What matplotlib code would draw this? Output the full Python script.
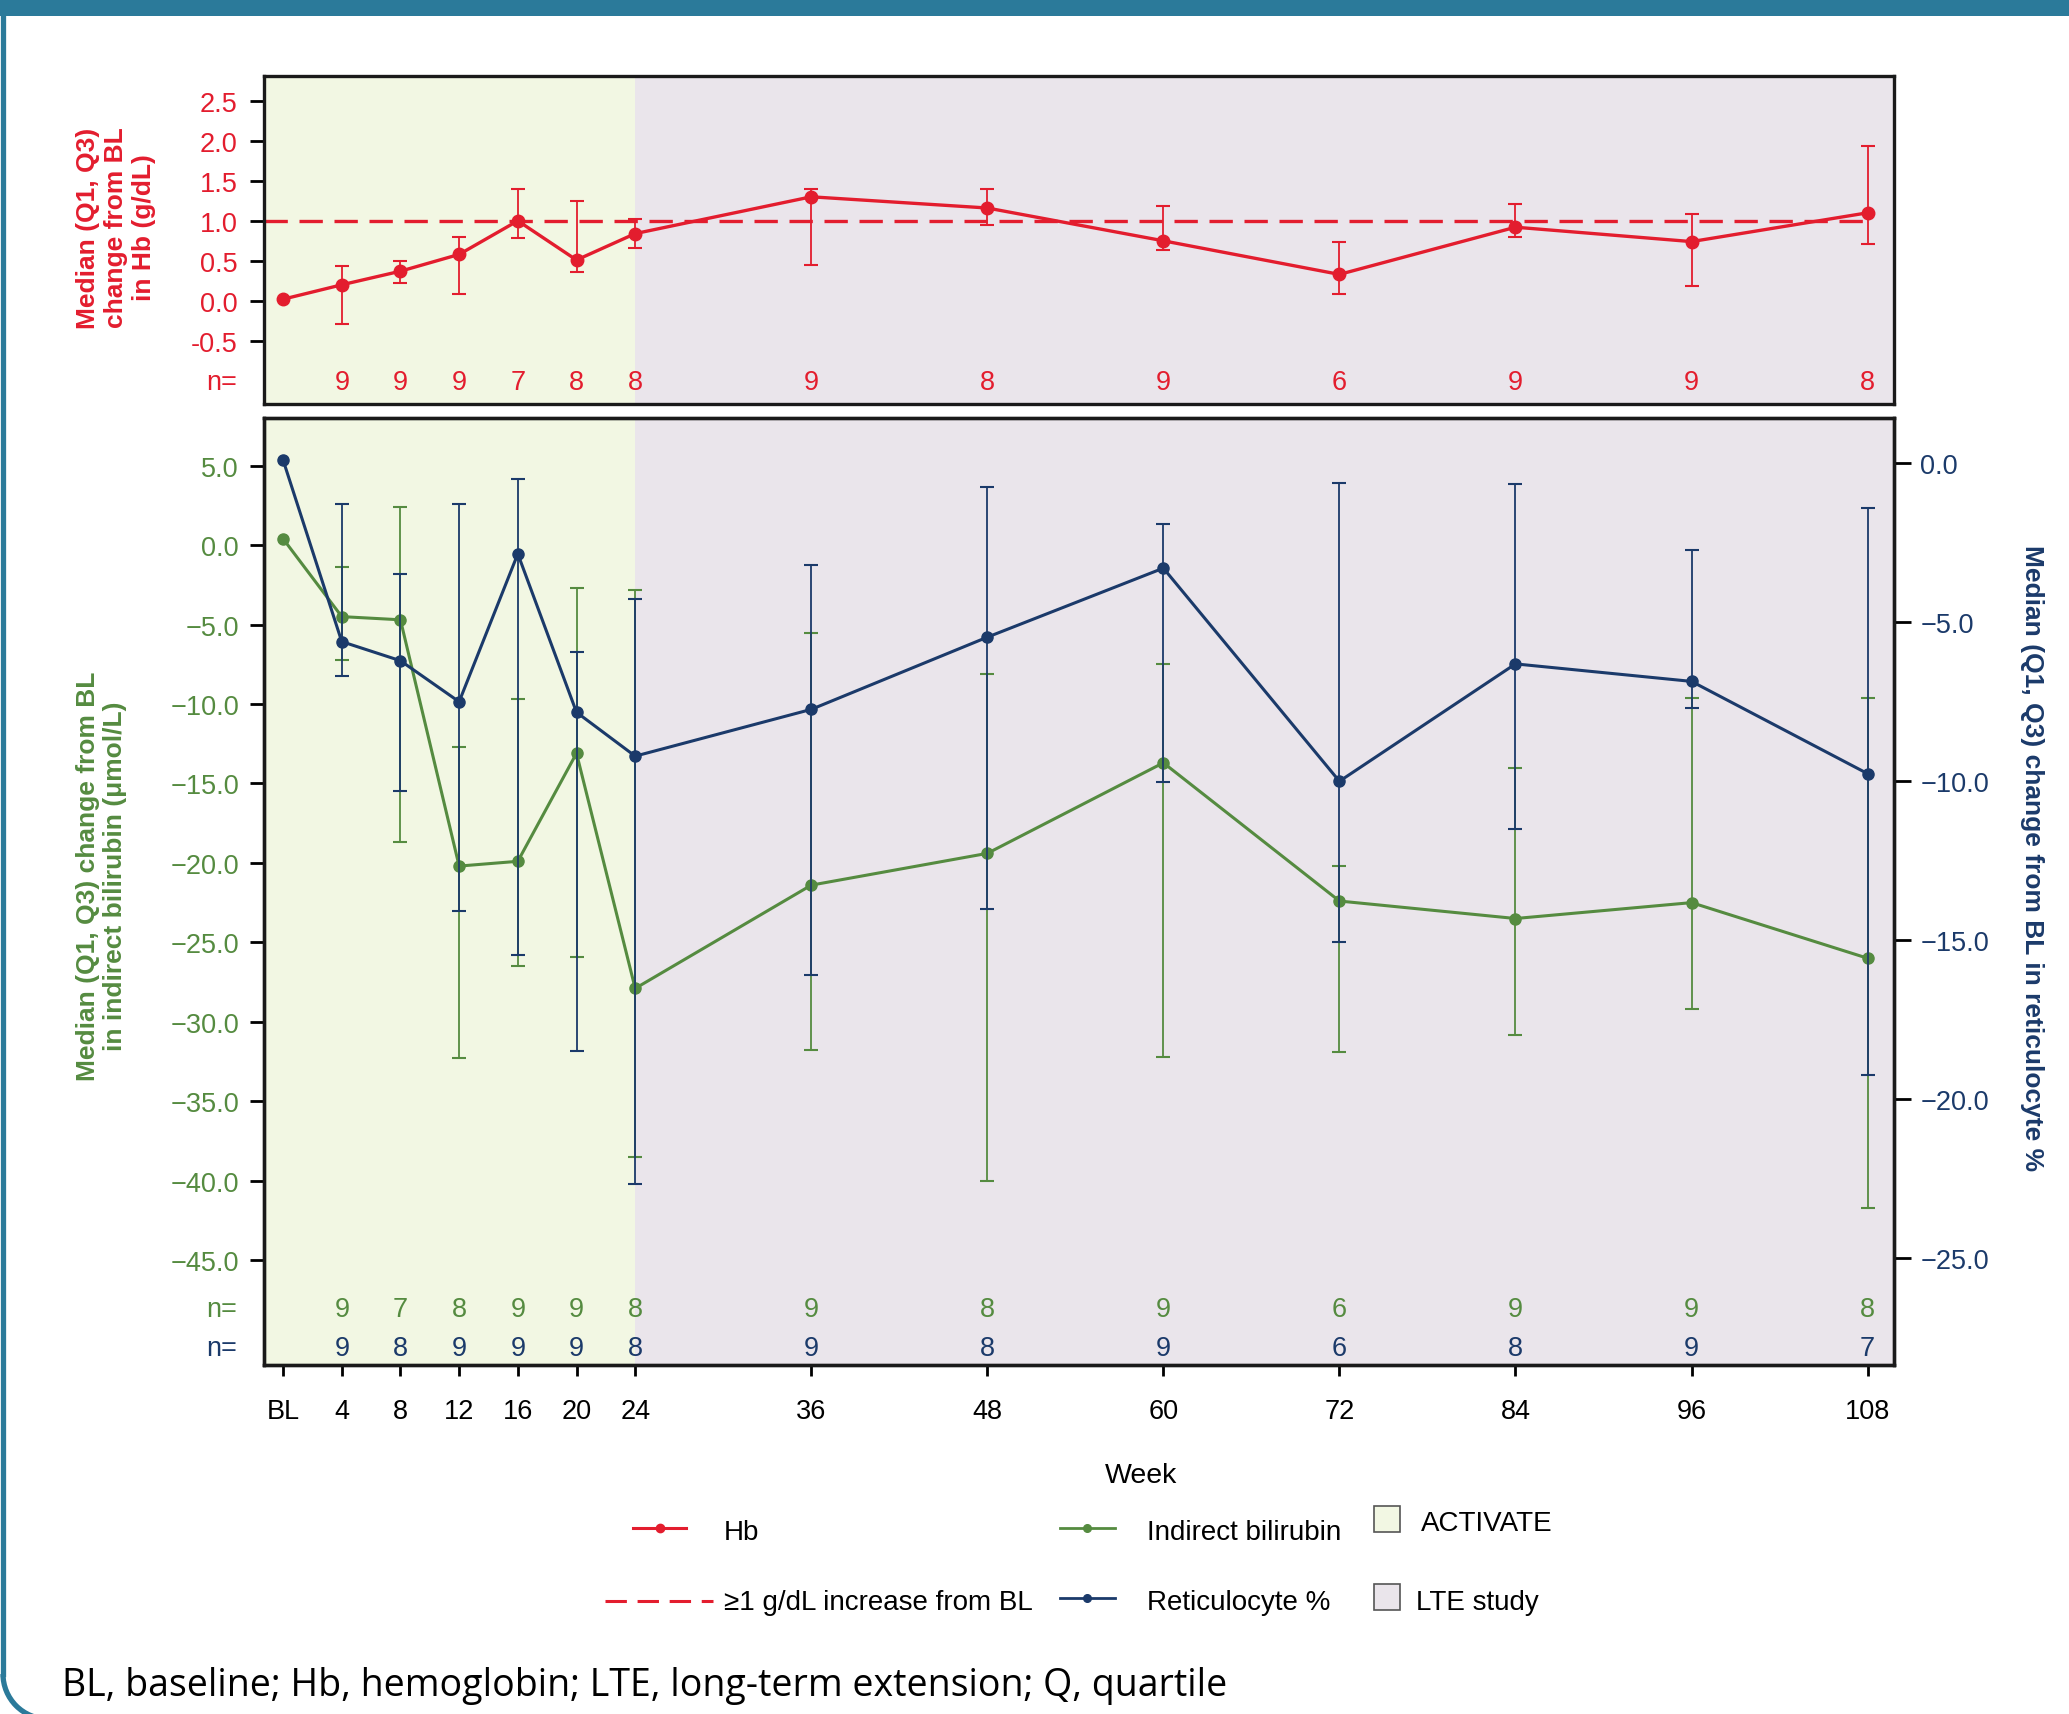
import matplotlib
matplotlib.use('Agg')
import matplotlib.pyplot as plt
import numpy as np
from matplotlib.lines import Line2D
from matplotlib.patches import Rectangle, Arc
from matplotlib.ticker import FuncFormatter

plt.rcParams['font.family'] = ['Liberation Sans', 'DejaVu Sans']

# week axis
weeks = [0, 4, 8, 12, 16, 20, 24, 36, 48, 60, 72, 84, 96, 108]
week_labels = ['BL', '4', '8', '12', '16', '20', '24', '36', '48', '60', '72', '84', '96', '108']
activate_end = 24

# Hb change from BL (g/dL)
hb_median = [0.02, 0.20, 0.37, 0.58, 1.00, 0.51, 0.84, 1.30, 1.16, 0.75, 0.33, 0.92, 0.74, 1.10]
hb_q1 = [np.nan, -0.29, 0.22, 0.09, 0.79, 0.36, 0.66, 0.45, 0.95, 0.64, 0.08, 0.80, 0.19, 0.71]
hb_q3 = [np.nan, 0.43, 0.50, 0.80, 1.40, 1.25, 1.02, 1.40, 1.40, 1.19, 0.73, 1.21, 1.08, 1.94]
hb_n = ['', '9', '9', '9', '7', '8', '8', '9', '8', '9', '6', '9', '9', '8']
hb_threshold = 1.0

# indirect bilirubin change from BL (umol/L)
bili_median = [0.4, -4.5, -4.7, -20.2, -19.9, -13.1, -27.9, -21.4, -19.4, -13.7, -22.4, -23.5, -22.5, -26.0]
bili_q1 = [np.nan, -7.2, -18.7, -32.3, -26.5, -25.9, -38.5, -31.8, -40.0, -32.2, -31.9, -30.8, -29.2, -41.7]
bili_q3 = [np.nan, -1.4, 2.4, -12.7, -9.7, -2.7, -2.8, -5.5, -8.1, -7.5, -20.2, -14.0, -9.6, -9.6]
bili_n = ['', '9', '7', '8', '9', '9', '8', '9', '8', '9', '6', '9', '9', '8']

# reticulocyte % change from BL
ret_median = [0.1, -5.61, -6.21, -7.50, -2.85, -7.83, -9.21, -7.74, -5.47, -3.30, -10.00, -6.31, -6.86, -9.76]
ret_q1 = [np.nan, -6.69, -10.31, -14.08, -15.46, -18.47, -22.65, -16.09, -14.03, -10.01, -15.05, -11.50, -7.69, -19.23]
ret_q3 = [np.nan, -1.29, -3.49, -1.29, -0.49, -5.95, -4.26, -3.21, -0.76, -1.92, -0.62, -0.66, -2.73, -1.40]
ret_n = ['', '9', '8', '9', '9', '9', '8', '9', '8', '9', '6', '8', '9', '7']

hb_ticks = [-0.5, 0.0, 0.5, 1.0, 1.5, 2.0, 2.5]
bili_ticks = [-45, -40, -35, -30, -25, -20, -15, -10, -5, 0, 5]
ret_ticks = [-25, -20, -15, -10, -5, 0]

red = '#E31D2E'
green = '#558B40'
navy = '#1B3A6A'
act_col = '#F2F7E3'
lte_col = '#EAE5EB'
teal = '#2B7A9A'

TS = 19.5   # tick / n= text size
LS = 20     # legend text size

W, H = 2069, 1715
fig = plt.figure(figsize=(W / 100, H / 100), dpi=100)
ax_top = fig.add_axes([264 / W, 1 - 405 / H, 1630 / W, 328 / H])
ax_bot = fig.add_axes([264 / W, 1 - 1366 / H, 1630 / W, 947 / H])
ax_ret = ax_bot.twinx()

xlim = (-1.3, 109.8)
for ax in (ax_top, ax_bot):
    ax.set_xlim(*xlim)
    ax.axvspan(xlim[0], activate_end, color=act_col, zorder=0, lw=0)
    ax.axvspan(activate_end, xlim[1], color=lte_col, zorder=0, lw=0)
    for s in ax.spines.values():
        s.set_linewidth(2.4)
        s.set_color('#1a1a1a')
for s in ax_ret.spines.values():
    s.set_linewidth(2.4)
    s.set_color('#1a1a1a')


def err(med, q1, q3):
    med = np.array(med[1:])
    return [med - np.array(q1[1:]), np.array(q3[1:]) - med]


def fmt_minus(v, p):
    return ('%.1f' % v).replace('-', '\u2212')


# ---- top panel: Hb
ax_top.set_ylim(-1.29, 2.81)
ax_top.plot([xlim[0], weeks[-1] + 0.4], [hb_threshold, hb_threshold], color=red, lw=2.4,
            ls=(0, (7, 3.5)), zorder=2)
ax_top.errorbar(weeks[1:], hb_median[1:], yerr=err(hb_median, hb_q1, hb_q3), fmt='none',
                ecolor=red, elinewidth=1.3, capsize=5, capthick=1.5, zorder=3)
ax_top.plot(weeks, hb_median, color=red, lw=2.4, marker='o', ms=9, zorder=4)
ax_top.set_xticks([])
ax_top.set_yticks(hb_ticks)
ax_top.yaxis.set_major_formatter(FuncFormatter(lambda v, p: '%.1f' % v))
ax_top.tick_params(axis='y', length=10, width=2, pad=9, labelsize=TS, labelcolor=red)
for w, n in zip(weeks, hb_n):
    ax_top.text(w, -1.01, n, color=red, fontsize=TS, ha='center', va='center')
ax_top.text(-0.0166, -1.01, 'n=', color=red, fontsize=TS, ha='right', va='center',
            transform=ax_top.get_yaxis_transform())
ax_top.text(-0.0908, 0.54, 'Median (Q1, Q3)\nchange from BL\nin Hb (g/dL)', color=red,
            fontsize=19, fontweight='bold', rotation=90, ha='center', va='center',
            multialignment='center', linespacing=1.2, transform=ax_top.transAxes)

# ---- bottom panel: bilirubin (left) and reticulocyte (right)
ax_bot.set_ylim(-51.6, 8.0)
ax_ret.set_ylim(-28.35, 1.42)

ax_bot.errorbar(weeks[1:], bili_median[1:], yerr=err(bili_median, bili_q1, bili_q3), fmt='none',
                ecolor=green, elinewidth=1.3, capsize=5, capthick=1.5, zorder=3)
ax_bot.plot(weeks, bili_median, color=green, lw=2.2, marker='o', ms=8, zorder=4)
ax_ret.errorbar(weeks[1:], ret_median[1:], yerr=err(ret_median, ret_q1, ret_q3), fmt='none',
                ecolor=navy, elinewidth=1.3, capsize=5, capthick=1.5, zorder=3)
ax_ret.plot(weeks, ret_median, color=navy, lw=2.2, marker='o', ms=8, zorder=4)

ax_bot.set_xticks(weeks)
ax_bot.set_xticklabels(week_labels)
ax_bot.tick_params(axis='x', length=8, width=2, pad=16, labelsize=TS, labelcolor='black')
ax_bot.set_yticks(bili_ticks)
ax_bot.yaxis.set_major_formatter(FuncFormatter(fmt_minus))
ax_bot.tick_params(axis='y', length=10, width=2, pad=8, labelsize=TS, labelcolor=green)
ax_ret.set_yticks(ret_ticks)
ax_ret.yaxis.set_major_formatter(FuncFormatter(fmt_minus))
ax_ret.tick_params(axis='y', length=12, width=2, pad=7, labelsize=TS, labelcolor=navy)

for w, n1, n2 in zip(weeks, bili_n, ret_n):
    ax_bot.text(w, -48.1, n1, color=green, fontsize=TS, ha='center', va='center')
    ax_bot.text(w, -50.5, n2, color=navy, fontsize=TS, ha='center', va='center')
ax_bot.text(-0.0166, -48.1, 'n=', color=green, fontsize=TS, ha='right', va='center',
            transform=ax_bot.get_yaxis_transform())
ax_bot.text(-0.0166, -50.5, 'n=', color=navy, fontsize=TS, ha='right', va='center',
            transform=ax_bot.get_yaxis_transform())

ax_bot.text(-0.0997, 0.517, 'Median (Q1, Q3) change from BL\nin indirect bilirubin (\u03bcmol/L)',
            color=green, fontsize=19, fontweight='bold', rotation=90, ha='center', va='center',
            multialignment='center', linespacing=1.2, transform=ax_bot.transAxes)
ax_bot.text(1.0847, 0.536, 'Median (Q1, Q3) change from BL in reticulocyte %', color=navy,
            fontsize=19, fontweight='bold', rotation=-90, ha='center', va='center',
            transform=ax_bot.transAxes)

fig.text(1141 / W, 1 - 1476 / H, 'Week', fontsize=20.5, ha='center', va='center')

# ---- legend (drawn by hand, figure pixel positions)
def fx(px):
    return px / W


def fy(py):
    return 1 - py / H


fig.add_artist(Line2D([fx(633), fx(686)], [fy(1529), fy(1529)], color=red, lw=2.2))
fig.add_artist(Line2D([fx(660)], [fy(1529)], color=red, marker='o', ms=6))
fig.text(fx(724), fy(1533), 'Hb', fontsize=LS, va='center')
fig.add_artist(Line2D([fx(605), fx(713)], [fy(1602), fy(1602)], color=red, lw=2.2, ls=(0, (7, 3.5))))
fig.text(fx(724), fy(1603), '\u22651 g/dL increase from BL', fontsize=LS, va='center')

fig.add_artist(Line2D([fx(1060), fx(1115)], [fy(1529), fy(1529)], color=green, lw=2))
fig.add_artist(Line2D([fx(1087)], [fy(1529)], color=green, marker='o', ms=5.5))
fig.text(fx(1147), fy(1533), 'Indirect bilirubin', fontsize=LS, va='center')
fig.add_artist(Line2D([fx(1060), fx(1115)], [fy(1599), fy(1599)], color=navy, lw=2))
fig.add_artist(Line2D([fx(1087)], [fy(1599)], color=navy, marker='o', ms=5.5))
fig.text(fx(1147), fy(1603), 'Reticulocyte %', fontsize=LS, va='center')

fig.add_artist(Rectangle((fx(1374), fy(1533)), 26 / W, 26 / H, transform=fig.transFigure,
                         facecolor=act_col, edgecolor='#555555', lw=1.2))
fig.text(fx(1421), fy(1524), 'ACTIVATE', fontsize=LS, va='center')
fig.add_artist(Rectangle((fx(1374), fy(1611)), 26 / W, 26 / H, transform=fig.transFigure,
                         facecolor=lte_col, edgecolor='#555555', lw=1.2))
fig.text(fx(1416), fy(1603), 'LTE study', fontsize=LS, va='center')

fig.text(fx(62), fy(1686), 'BL, baseline; Hb, hemoglobin; LTE, long-term extension; Q, quartile',
         fontsize=27, va='center', family=['Open Sans', 'DejaVu Sans'])

# ---- outer frame
fig.add_artist(Rectangle((0, 1 - 17 / H), 1, 17 / H, transform=fig.transFigure,
                         facecolor=teal, edgecolor='none'))
R = 45
fig.add_artist(Line2D([fx(3), fx(3)], [fy(10), fy(H - 40)], color=teal, lw=3.8))
fig.add_artist(Arc((fx(3 + R), 40 / H), 2 * R / W, 2 * R / H, theta1=180, theta2=270,
                   transform=fig.transFigure, color=teal, lw=3.8))

fig.savefig('out.png', dpi=100, facecolor='white')
